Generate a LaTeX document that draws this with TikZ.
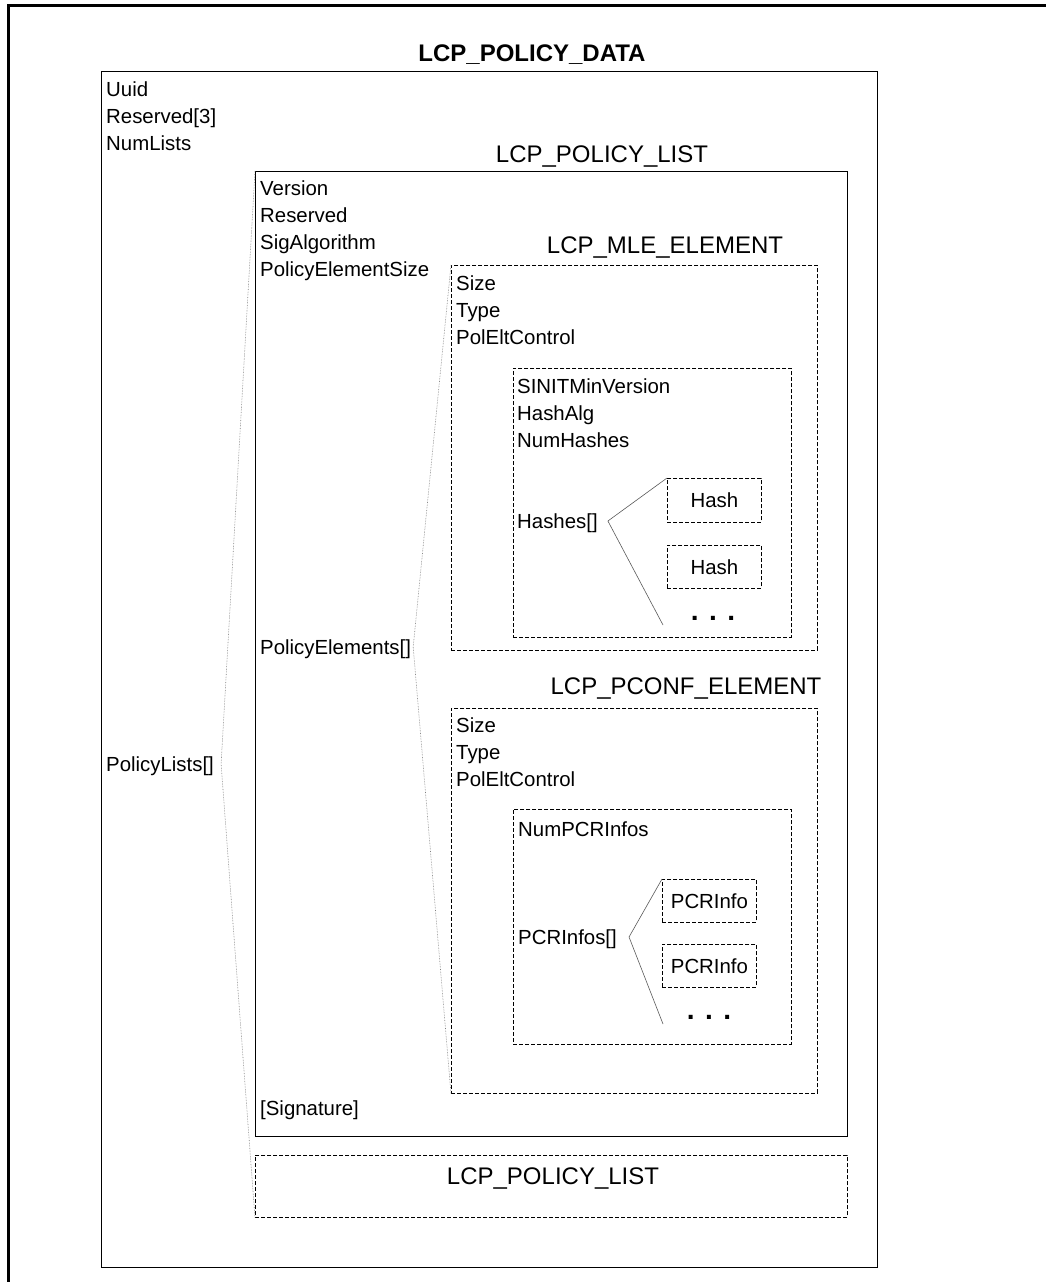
\documentclass[tikz,border=0pt]{standalone}
\usepackage{fontspec}
\setmainfont{Liberation Sans}
\usepackage{tikz}
\usetikzlibrary{positioning}

\newcommand{\fieldfont}{\fontsize{20.4}{27}\selectfont}
\newcommand{\headfont}{\fontsize{24}{29}\selectfont}
\newcommand{\dotsfont}{\fontsize{28}{30}\selectfont\bfseries}

\tikzset{
	field/.style={anchor=west, inner sep=0pt, font=\fieldfont, text height=14.6pt, text depth=0pt},
	heading/.style={inner sep=0pt, font=\headfont, text height=17.2pt, text depth=0pt},
	solidbox/.style={draw, line width=1.2pt, anchor=north west, inner sep=0pt},
	dashbox/.style={draw, line width=0.9pt, dash pattern=on 4pt off 2pt, anchor=north west, inner sep=0pt},
	listlink/.style={draw=gray, line width=0.6pt, densely dotted},
	itemlink/.style={draw=gray!70!black, line width=0.6pt}
}

\begin{document}
\begin{tikzpicture}[x=1pt, y=-1pt]
		\useasboundingbox (0,0) rectangle (1046,1282);
		\draw[line width=3pt] (8,1282) -- (8,5.5) -- (1046,5.5);
		\node[heading, font=\headfont\bfseries] (datatitle) at (532,53) {LCP\_POLICY\_DATA};
		\node[solidbox, minimum width=776pt, minimum height=1196pt] (data) at (101,71) {};
		\node[field] (uuid) at (106,89) {Uuid};
		\node[field] (dreserved) at (106,116) {Reserved[3]};
		\node[field] (numlists) at (106,143) {NumLists};
		\node[field] (lists) at (106,764) {PolicyLists[]};
		\node[heading] (listtitle) at (602,154) {LCP\_POLICY\_LIST};
		\node[solidbox, minimum width=592pt, minimum height=965pt] (list) at (255,171) {};
		\node[field] (version) at (260,188) {Version};
		\node[field] (lreserved) at (260,215) {Reserved};
		\node[field] (sigalg) at (260,242) {SigAlgorithm};
		\node[field] (eltsize) at (260,269) {PolicyElementSize};
		\node[field] (elements) at (260,647) {PolicyElements[]};
		\node[field] (signature) at (260,1108) {[Signature]};
		\node[heading] (mletitle) at (665,245) {LCP\_MLE\_ELEMENT};
		\node[dashbox, minimum width=366pt, minimum height=385pt] (mle) at (451,265) {};
		\node[field] (mlesize) at (456,283) {Size};
		\node[field] (mletype) at (456,310) {Type};
		\node[field] (mlectrl) at (456,337) {PolEltControl};
		\node[dashbox, minimum width=278pt, minimum height=269pt] (mlebody) at (513,368) {};
		\node[field] (sinit) at (517,386) {SINITMinVersion};
		\node[field] (hashalg) at (517,413) {HashAlg};
		\node[field] (numhashes) at (517,440) {NumHashes};
		\node[field] (hashes) at (517,521) {Hashes[]};
		\node[dashbox, minimum width=94pt, minimum height=44pt] (hash1) at (667,478) {};
		\node[field, anchor=center] at (hash1.center) {Hash};
		\node[dashbox, minimum width=94pt, minimum height=43pt] (hash2) at (667,545) {};
		\node[field, anchor=center] at (hash2.center) {Hash};
		\node[inner sep=0pt, font=\dotsfont] (hashdots) at (713,618) {. . .};
		\coordinate (hashend) at (663,625);
		\draw[itemlink] (hash1.north west) -- ([xshift=10pt]hashes.east) -- (hashend);
		\node[heading] (pconftitle) at (686,686) {LCP\_PCONF\_ELEMENT};
		\node[dashbox, minimum width=366pt, minimum height=385pt] (pconf) at (451,708) {};
		\node[field] (pconfsize) at (456,725) {Size};
		\node[field] (pconftype) at (456,752) {Type};
		\node[field] (pconfctrl) at (456,779) {PolEltControl};
		\node[dashbox, minimum width=278pt, minimum height=235pt] (pconfbody) at (513,809) {};
		\node[field] (numpcr) at (518,829) {NumPCRInfos};
		\node[field] (pcrinfos) at (518,937) {PCRInfos[]};
		\node[dashbox, minimum width=94pt, minimum height=43pt] (pcr1) at (662,879) {};
		\node[field, anchor=center] at (pcr1.center) {PCRInfo};
		\node[dashbox, minimum width=94pt, minimum height=43pt] (pcr2) at (662,944) {};
		\node[field, anchor=center] at (pcr2.center) {PCRInfo};
		\node[inner sep=0pt, font=\dotsfont] (pcrdots) at (709,1017) {. . .};
		\coordinate (pcrend) at (663,1024);
		\draw[itemlink] (pcr1.north west) -- ([xshift=12pt]pcrinfos.east) -- (pcrend);
		\draw[listlink] (mle.north west) -- ([xshift=2pt]elements.east) -- (pconf.south west);
		\node[dashbox, minimum width=592pt, minimum height=62pt] (list2) at (255,1155) {};
		\node[heading] (list2title) at (553,1176) {LCP\_POLICY\_LIST};
		\draw[listlink] (list.north west) -- ([xshift=7pt]lists.east) -- (list2.south west);
\end{tikzpicture}
\end{document}
